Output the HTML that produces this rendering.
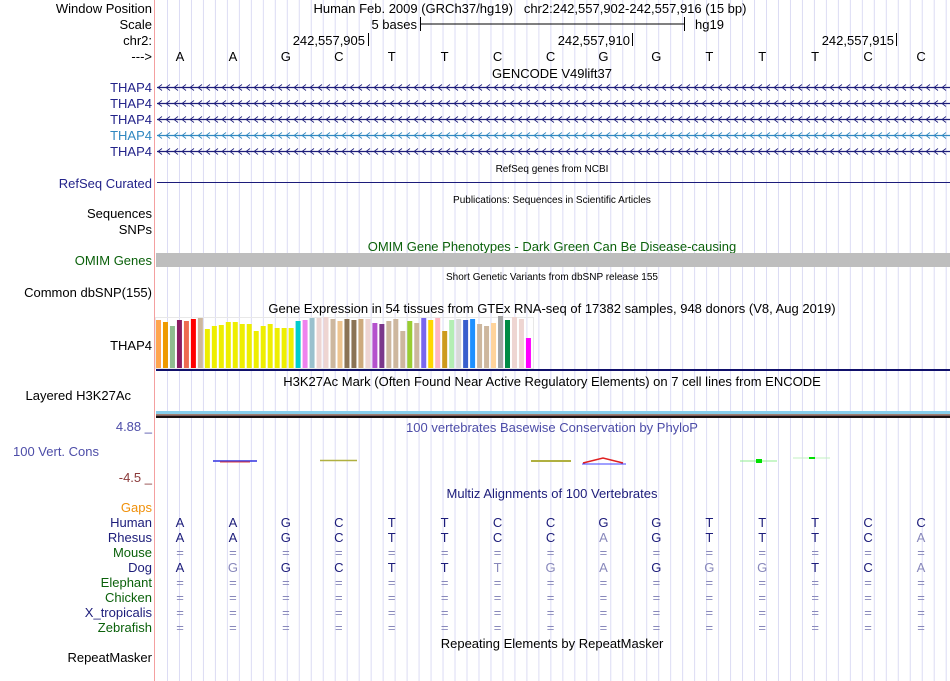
<!DOCTYPE html>
<html><head><meta charset="utf-8"><style>
body{margin:0;background:#fff;width:950px;height:681px;overflow:hidden}
svg{display:block;font-family:"Liberation Sans",sans-serif}
</style></head><body>
<svg id="s" width="950" height="681" viewBox="0 0 950 681">
<g id="grid"></g>
<line x1="154.5" y1="0" x2="154.5" y2="681" stroke="#f4a0a0"/>
<g font-size="13" text-anchor="end">
<text x="152" y="13">Window Position</text>
<text x="152" y="29">Scale</text>
<text x="152" y="45">chr2:</text>
<text x="152" y="61">---&gt;</text>
<text x="152" y="92" fill="#23238a">THAP4</text>
<text x="152" y="108" fill="#23238a">THAP4</text>
<text x="152" y="124" fill="#23238a">THAP4</text>
<text x="152" y="140" fill="#2f87c0">THAP4</text>
<text x="152" y="156" fill="#23238a">THAP4</text>
<text x="152" y="188" fill="#23238a">RefSeq Curated</text>
<text x="152" y="218">Sequences</text>
<text x="152" y="234">SNPs</text>
<text x="152" y="265" fill="#0b610b">OMIM Genes</text>
<text x="152" y="297">Common dbSNP(155)</text>
<text x="152" y="350">THAP4</text>
<text x="131" y="400">Layered H3K27Ac</text>
<text x="152" y="431" fill="#4d4da8">4.88 _</text>
<text x="99" y="456" fill="#4d4da8">100 Vert. Cons</text>
<text x="152" y="482" fill="#8b3a3a">-4.5 _</text>
<text x="152" y="512" fill="#f0900a">Gaps</text>
<text x="152" y="527" fill="#1c1c7a">Human</text>
<text x="152" y="542" fill="#1c1c7a">Rhesus</text>
<text x="152" y="557" fill="#0b610b">Mouse</text>
<text x="152" y="572" fill="#1c1c7a">Dog</text>
<text x="152" y="587" fill="#0b610b">Elephant</text>
<text x="152" y="602" fill="#0b610b">Chicken</text>
<text x="152" y="617" fill="#1c1c7a">X_tropicalis</text>
<text x="152" y="632" fill="#0b610b">Zebrafish</text>
<text x="152" y="662">RepeatMasker</text>
</g>
<g font-size="13" text-anchor="middle">
<text x="530" y="13" text-anchor="middle">Human Feb. 2009 (GRCh37/hg19)&#160;&#160;&#160;chr2:242,557,902-242,557,916 (15 bp)</text>
<text x="417" y="29" text-anchor="end">5 bases</text>
<text x="695" y="29" text-anchor="start">hg19</text>
<text x="365" y="45" text-anchor="end">242,557,905</text>
<text x="630" y="45" text-anchor="end">242,557,910</text>
<text x="894" y="45" text-anchor="end">242,557,915</text>
<text x="552" y="78">GENCODE V49lift37</text>
<text x="552" y="172" font-size="10">RefSeq genes from NCBI</text>
<text x="552" y="203" font-size="10">Publications: Sequences in Scientific Articles</text>
<text x="552" y="251" fill="#0b610b">OMIM Gene Phenotypes - Dark Green Can Be Disease-causing</text>
<text x="552" y="280" font-size="10">Short Genetic Variants from dbSNP release 155</text>
<text x="552" y="313">Gene Expression in 54 tissues from GTEx RNA-seq of 17382 samples, 948 donors (V8, Aug 2019)</text>
<text x="552" y="386">H3K27Ac Mark (Often Found Near Active Regulatory Elements) on 7 cell lines from ENCODE</text>
<text x="552" y="432" fill="#4d4da8">100 vertebrates Basewise Conservation by PhyloP</text>
<text x="552" y="498" fill="#1c1c7a">Multiz Alignments of 100 Vertebrates</text>
<text x="552" y="648">Repeating Elements by RepeatMasker</text>
</g>
<g stroke="#000">
<line x1="420" y1="24" x2="684" y2="24"/><line x1="420.5" y1="17" x2="420.5" y2="31"/><line x1="684.5" y1="17" x2="684.5" y2="31"/>
<line x1="368.5" y1="33" x2="368.5" y2="46"/><line x1="632.5" y1="33" x2="632.5" y2="46"/><line x1="896.5" y1="33" x2="896.5" y2="46"/>
</g>
<g id="bases" font-size="13" text-anchor="middle"></g>
<g id="genes"></g>
<line x1="157" y1="182.5" x2="950" y2="182.5" stroke="#1c1c7a"/>
<rect x="156" y="253" width="794" height="14" fill="#bebebe"/>
<rect x="155.5" y="317.5" width="378" height="51" fill="none" stroke="#e8e8e8"/>
<g id="gtex"></g>
<rect x="156" y="369" width="794" height="2" fill="#10106b"/>
<g>
<rect x="156" y="411" width="794" height="3" fill="#87ceeb"/>
<rect x="156" y="414" width="794" height="1" fill="#a08070"/>
<rect x="156" y="415" width="794" height="1" fill="#806060"/>
<rect x="156" y="416" width="794" height="2" fill="#1a1010"/>
</g>
<g>
<line x1="213" y1="461" x2="257" y2="461" stroke="#3030e0" stroke-width="1.5"/><line x1="220" y1="462" x2="250" y2="462" stroke="#e04040"/>
<line x1="320" y1="460.5" x2="357" y2="460.5" stroke="#b0b040" stroke-width="1.5"/>
<line x1="531" y1="461" x2="571" y2="461" stroke="#b0b040" stroke-width="2"/>
<path d="M583 463 L603 458 L623 463" fill="none" stroke="#e02020" stroke-width="1.5"/><line x1="582" y1="464" x2="626" y2="464" stroke="#4040ff"/>
<line x1="740" y1="461" x2="777" y2="461" stroke="#90ee90"/><rect x="756" y="459" width="6" height="4" fill="#00e000"/>
<line x1="793" y1="458" x2="830" y2="458" stroke="#c0f0c0"/><rect x="809" y="457" width="6" height="2" fill="#00e000"/>
</g>
<g id="multiz" font-size="13" text-anchor="middle"></g>
</svg>
<script>
const baseSeq = ["A","A","G","C","T","T","C","C","G","G","T","T","T","C","C"];
const rhesusSeq = ["A","A","G","C","T","T","C","C","A","G","T","T","T","C","A"];
const dogSeq = ["A","G","G","C","T","T","T","G","A","G","G","G","T","C","A"];
const gtexValues = [48,46,42,48,47,49,50,39,42,43,46,46,44,44,37,42,44,40,40,40,47,48,50,50,51,49,47,49,48,49,49,45,44,47,49,37,47,45,50,48,50,37,48,49,48,49,44,42,45,52,48,51,49,30];
const gtexColors = ["#FFA54F","#EE9A00","#8FBC8F","#8B1C62","#EE6A50","#FF0000","#CDB79E","#EEEE00","#EEEE00","#EEEE00","#EEEE00","#EEEE00","#EEEE00","#EEEE00","#EEEE00","#EEEE00","#EEEE00","#EEEE00","#EEEE00","#EEEE00","#00CDCD","#EE82EE","#9AC0CD","#EED5D2","#EED5D2","#CDB79E","#EEC591","#8B7355","#8B7355","#CDAA7D","#EED5D2","#B452CD","#7A378B","#CDB79E","#CDB79E","#CDB79E","#9ACD32","#CDB79E","#7A67EE","#FFD700","#FFB6C1","#CD9B1D","#B4EEB4","#D9D9D9","#3A5FCD","#1E90FF","#CDB79E","#CDB79E","#FFD39B","#A6A6A6","#008B45","#EED5D2","#EED5D2","#FF00FF"];
const NS="http://www.w3.org/2000/svg";
function mk(tag, attrs, parent){const e=document.createElementNS(NS,tag);for(const k in attrs)e.setAttribute(k,attrs[k]);parent.appendChild(e);return e;}
const xBase = i => 180 + i*52.93;
const gtexX = i => 156 + i*6.98;
const gtexY = v => 368 - v;
// grid
const grid=document.getElementById('grid');
for(let x=167.5;x<950;x+=11.98){const l=mk('line',{x1:x,y1:0,x2:x,y2:681,stroke:'#dcdcf4'},grid);

}
// bases
const bases=document.getElementById('bases');
baseSeq.forEach((b,i)=>{const t=mk('text',{x:xBase(i),y:61},bases);t.textContent=b;

});
// genes
const genes=document.getElementById('genes');
[87,103,119,135,151].forEach((y,k)=>{const c=k===3?'#2f87c0':'#1c1c7a';
const g=mk('g',{stroke:c,fill:'none'},genes);


mk('line',{x1:157,y1:y+0.5,x2:950,y2:y+0.5,'stroke-width':1.3},g);
let d='';for(let x=158;x<950;x+=8){d+=`M${x+4} ${y-2.5}L${x} ${y+0.5}L${x+4} ${y+3.5}`;}
mk('path',{d:d,'stroke-width':0.8},g);});
// gtex
const gtex=document.getElementById('gtex');
gtexValues.forEach((v,i)=>{const r=mk('rect',{x:gtexX(i),y:gtexY(v),width:5,height:v,fill:gtexColors[i]},gtex);

});
// multiz
const mz=document.getElementById('multiz');
function row(seq,y){seq.forEach((b,i)=>{const dark=b===baseSeq[i];const t=mk('text',{x:xBase(i),y:y,fill:dark?'#1c1c7a':'#8888bb'},mz);t.textContent=b;

});}
row(baseSeq,527);row(rhesusSeq,542);row(dogSeq,572);
[557,587,602,617,632].forEach(y=>{baseSeq.forEach((b,i)=>{const t=mk('text',{x:xBase(i),y:y,fill:'#8888bb'},mz);t.textContent='=';

});});
</script>
</body></html>
